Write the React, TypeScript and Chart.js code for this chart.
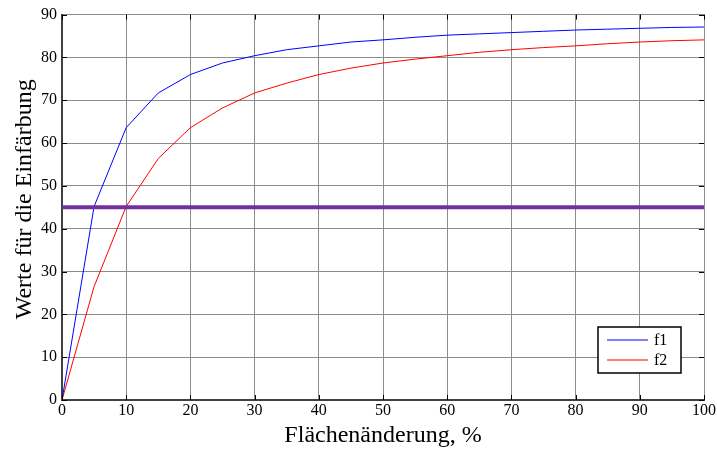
import React, { useEffect, useRef } from "react";
import { Chart, registerables } from "chart.js";

Chart.register(...registerables);

const xValues = [0, 5, 10, 15, 20, 25, 30, 35, 40, 45, 50, 55, 60, 65, 70, 75, 80, 85, 90, 95, 100];
const f1Values = [0, 45.2, 63.6, 71.7, 76.0, 78.7, 80.4, 81.8, 82.7, 83.6, 84.1, 84.7, 85.2, 85.5, 85.8, 86.1, 86.4, 86.6, 86.8, 87.0, 87.1];
const f2Values = [0, 26.5, 45.2, 56.4, 63.6, 68.2, 71.7, 74.0, 76.0, 77.5, 78.7, 79.6, 80.4, 81.2, 81.8, 82.3, 82.7, 83.2, 83.6, 83.9, 84.1];
const thresholdValue = 45;
const seriesLabels = ["f1", "f2"];
const seriesColors = ["#0000ff", "#ff0000"];
const thresholdColor = "#7030a0";
const xTitle = "Flächenänderung, %";
const yTitle = "Werte für die Einfärbung";
const xMin = 0, xMax = 100, xStep = 10;
const yMin = 0, yMax = 90, yStep = 10;

const FONT = '"Liberation Serif", "Times New Roman", serif';

const decorPlugin = {
  id: "decor",
  afterDatasetsDraw(chart: any) {
    const { ctx, chartArea, scales } = chart;
    const { left, right, top, bottom } = chartArea;
    ctx.save();
    // inward ticks
    ctx.strokeStyle = "#000";
    ctx.lineWidth = 1;
    const tl = 5;
    scales.x.ticks.forEach((t: any) => {
      const px = Math.round(scales.x.getPixelForValue(t.value)) + 0.5;
      ctx.beginPath();
      ctx.moveTo(px, bottom);
      ctx.lineTo(px, bottom - tl);
      ctx.moveTo(px, top);
      ctx.lineTo(px, top + tl);
      ctx.stroke();
    });
    scales.y.ticks.forEach((t: any) => {
      const py = Math.round(scales.y.getPixelForValue(t.value)) + 0.5;
      ctx.beginPath();
      ctx.moveTo(left, py);
      ctx.lineTo(left + tl, py);
      ctx.moveTo(right, py);
      ctx.lineTo(right - tl, py);
      ctx.stroke();
    });
    // legend
    const ds = chart.data.datasets.filter((d: any) => !d.isThreshold);
    const bw = 83, bh = 46;
    const bx = right - 23 - bw;
    const by = bottom - 27 - bh;
    ctx.fillStyle = "#fff";
    ctx.fillRect(bx, by, bw, bh);
    ctx.strokeStyle = "#000";
    ctx.lineWidth = 1.5;
    ctx.strokeRect(bx, by, bw, bh);
    ctx.font = `16px ${FONT}`;
    ctx.textBaseline = "middle";
    ctx.textAlign = "left";
    ds.forEach((d: any, i: number) => {
      const y = by + 13 + i * 20;
      ctx.strokeStyle = d.borderColor;
      ctx.lineWidth = 1.2;
      ctx.beginPath();
      ctx.moveTo(bx + 9, y);
      ctx.lineTo(bx + 50, y);
      ctx.stroke();
      ctx.fillStyle = "#000";
      ctx.fillText(d.label, bx + 56, y + 1);
    });
    // y title
    ctx.save();
    ctx.translate(25, (top + bottom) / 2 - 8);
    ctx.rotate(-Math.PI / 2);
    ctx.font = `24px ${FONT}`;
    ctx.textAlign = "center";
    ctx.textBaseline = "middle";
    ctx.fillStyle = "#000";
    ctx.fillText(yTitle, 0, 0);
    ctx.restore();
    ctx.restore();
  },
};

export default function App() {
  const ref = useRef<HTMLCanvasElement>(null);
  useEffect(() => {
    if (!ref.current) return;
    const mk = (vals: number[]) => xValues.map((x, i) => ({ x, y: vals[i] }));
    const chart = new Chart(ref.current, {
      type: "line",
      data: {
        datasets: [
          {
            label: "threshold",
            isThreshold: true,
            data: [
              { x: xValues[0], y: thresholdValue },
              { x: xValues[xValues.length - 1], y: thresholdValue },
            ],
            borderColor: thresholdColor,
            borderWidth: 4,
            pointRadius: 0,
            order: 0,
          } as any,
          {
            label: seriesLabels[0],
            data: mk(f1Values),
            borderColor: seriesColors[0],
            borderWidth: 1,
            pointRadius: 0,
            tension: 0,
            order: 1,
          },
          {
            label: seriesLabels[1],
            data: mk(f2Values),
            borderColor: seriesColors[1],
            borderWidth: 1,
            pointRadius: 0,
            tension: 0,
            order: 2,
          },
        ],
      },
      options: {
        animation: false,
        responsive: false,
        layout: { padding: { top: 14, right: 13, left: 0, bottom: 0 } },
        plugins: { legend: { display: false }, tooltip: { enabled: false } },
        scales: {
          x: {
            type: "linear",
            min: xMin,
            max: xMax,
            ticks: {
              stepSize: xStep,
              color: "#000",
              font: { family: FONT, size: 16 },
              padding: 1,
              maxRotation: 0,
            },
            grid: { color: "#8c8c8c", lineWidth: 1, drawTicks: false },
            border: { color: "#404040", width: 2 },
            title: {
              display: true,
              text: xTitle,
              color: "#000",
              font: { family: FONT, size: 24 },
              padding: { top: 0, bottom: 0 },
            },
            afterFit: (s: any) => {
              s.height = 50;
            },
          },
          y: {
            type: "linear",
            min: yMin,
            max: yMax,
            ticks: {
              stepSize: yStep,
              color: "#000",
              font: { family: FONT, size: 16 },
              padding: 5,
            },
            grid: { color: "#8c8c8c", lineWidth: 1, drawTicks: false },
            border: { color: "#404040", width: 2 },
            afterFit: (s: any) => {
              s.width = 62;
            },
          },
        },
      },
      plugins: [decorPlugin],
    } as any);
    return () => chart.destroy();
  }, []);
  return (
    <div style={{ position: "absolute", left: 0, top: 0, width: 717, height: 450, background: "#fff" }}>
      <canvas ref={ref} width={717} height={450} style={{ display: "block" }} />
    </div>
  );
}
